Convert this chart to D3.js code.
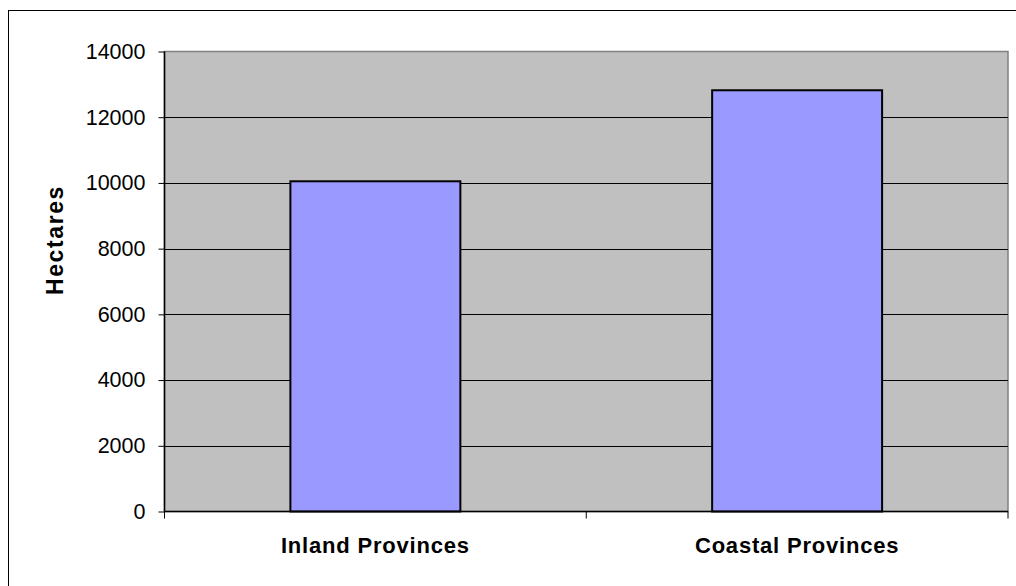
<!DOCTYPE html>
<html><head><meta charset="utf-8">
<script src="https://cdn.jsdelivr.net/npm/d3@7"></script>
<style>body{margin:0;background:#fff}svg{display:block}</style>
</head><body><svg id="c" width="1016" height="586"></svg>
<script>
const categories = ["Inland Provinces", "Coastal Provinces"];
const values = [10050, 12820];
const yTicks = [0, 2000, 4000, 6000, 8000, 10000, 12000, 14000];
const yTitle = "Hectares";

const svg = d3.select("#c");
const L = 164.5, R = 1008, T = 51.5, B = 511.5;
const x = d3.scaleBand().domain(categories).range([L, R]).paddingInner(0.597).paddingOuter(0.2985);
const xb = d3.scaleBand().domain(categories).range([L, R]);
const y = d3.scaleLinear().domain([0, 14000]).range([B, T]);

// outer border
svg.append("rect").attr("x", 8.5).attr("y", 10.5).attr("width", 1020).attr("height", 600)
  .attr("fill", "none").attr("stroke", "#000").attr("stroke-width", 1);

// plot area
svg.append("rect").attr("x", L).attr("y", T).attr("width", R - L).attr("height", B - T)
  .attr("fill", "#C0C0C0").attr("stroke", "#808080").attr("stroke-width", 1.5);

// gridlines
svg.append("g").selectAll("line").data(yTicks.filter(d => d > 0 && d < 14000)).join("line")
  .attr("x1", L).attr("x2", R).attr("y1", d => Math.round(y(d)) + 0.5).attr("y2", d => Math.round(y(d)) + 0.5)
  .attr("stroke", "#000").attr("stroke-width", 1);

// bars
svg.append("g").selectAll("rect").data(categories).join("rect")
  .attr("x", d => x(d)).attr("width", x.bandwidth())
  .attr("y", (d, i) => y(values[i])).attr("height", (d, i) => B - y(values[i]))
  .attr("fill", "#9999FF").attr("stroke", "#000").attr("stroke-width", 2);

// y axis
const ya = d3.axisLeft(y).tickValues(yTicks).tickSize(6).tickPadding(13).tickFormat(d3.format("d"));
const gy = svg.append("g").attr("transform", `translate(${L},0)`).call(ya);
gy.select(".domain").attr("stroke", "#000").attr("stroke-width", 1.5).attr("d", `M0,${T}V${B}`);
gy.selectAll(".tick line").attr("stroke", "#000");
gy.selectAll(".tick text").attr("font-family", "Liberation Sans, Arial, sans-serif").attr("font-size", 21.5).attr("fill", "#000");

// x axis
svg.append("line").attr("x1", L).attr("x2", R).attr("y1", B).attr("y2", B).attr("stroke", "#000").attr("stroke-width", 1.5);
const bounds = [L, xb(categories[1]), R];
svg.append("g").selectAll("line").data(bounds).join("line")
  .attr("x1", d => d).attr("x2", d => d).attr("y1", B).attr("y2", B + 7).attr("stroke", "#000").attr("stroke-width", 1);

svg.append("g").selectAll("text").data(categories).join("text")
  .attr("x", d => xb(d) + xb.bandwidth() / 2).attr("y", 553)
  .attr("text-anchor", "middle").attr("font-family", "Liberation Sans, Arial, sans-serif")
  .attr("font-weight", "bold").attr("font-size", 22).attr("letter-spacing", 0.8).text(d => d);

svg.append("text").attr("transform", "translate(63,240) rotate(-90)")
  .attr("text-anchor", "middle").attr("font-family", "Liberation Sans, Arial, sans-serif")
  .attr("font-weight", "bold").attr("font-size", 23).attr("letter-spacing", 1.6).text(yTitle);
</script></body></html>
